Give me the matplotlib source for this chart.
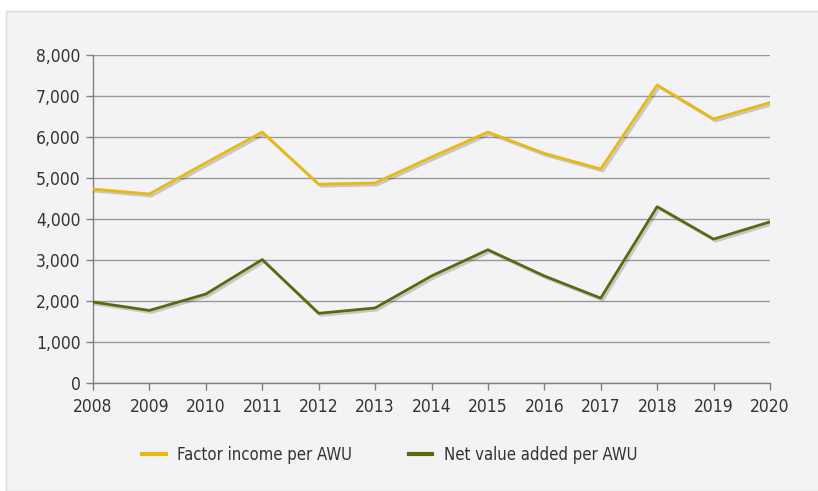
import matplotlib.pyplot as plt
import matplotlib.patheffects as pe
from matplotlib.patches import Rectangle
from matplotlib.lines import Line2D
from matplotlib.ticker import FuncFormatter

years = [2008, 2009, 2010, 2011, 2012, 2013, 2014, 2015, 2016, 2017, 2018, 2019, 2020]
factor_income = [4730, 4610, 5370, 6120, 4850, 4880, 5510, 6120, 5600, 5220, 7270, 6440, 6840]
net_value_added = [1975, 1770, 2170, 3010, 1700, 1830, 2610, 3250, 2610, 2070, 4300, 3510, 3930]
yticks = [0, 1000, 2000, 3000, 4000, 5000, 6000, 7000, 8000]

bg = '#f3f3f5'
text_col = '#333333'
yellow = '#e8b90f'
green = '#566b0e'
plt.rcParams['font.family'] = ['DejaVu Sans']
plt.rcParams['font.stretch'] = 'condensed'

fig = plt.figure(figsize=(8.18, 4.91), dpi=100)
fig.patch.set_facecolor('white')
# grey panel behind the chart
fig.patches.append(Rectangle((6 / 818, 0), 1, 1 - 11 / 491, transform=fig.transFigure,
                             facecolor=bg, edgecolor='#dddddd', linewidth=1, zorder=-1))

ax = fig.add_axes([93 / 818, 1 - 383 / 491, (770 - 93) / 818, (383 - 55) / 491])
ax.set_zorder(1)
ax.patch.set_alpha(0)

shadow = [pe.SimpleLineShadow(offset=(1.5, -1.5), alpha=0.18, shadow_color='black'), pe.Normal()]
ax.plot(years, factor_income, color=yellow, lw=2, path_effects=shadow, zorder=3)
ax.plot(years, net_value_added, color=green, lw=2, path_effects=shadow, zorder=3)

ax.set_xlim(2008, 2020)
ax.set_ylim(0, 8000)
ax.set_xticks(years)
ax.set_yticks(yticks)
ax.yaxis.set_major_formatter(FuncFormatter(lambda v, p: f'{int(v):,}'))
ax.grid(axis='y', color='#9a9a9a', lw=1)
ax.set_axisbelow(True)
for s in ['top', 'right']:
    ax.spines[s].set_visible(False)
for s in ['left', 'bottom']:
    ax.spines[s].set_color('#808080')
    ax.spines[s].set_linewidth(1)
ax.tick_params(axis='both', colors='#808080', labelcolor=text_col, labelsize=12.5, length=5, width=1)
ax.tick_params(axis='x', pad=6)
ax.tick_params(axis='y', pad=4)

handles = [Line2D([], [], color=yellow, lw=3), Line2D([], [], color=green, lw=3)]
labels = ['Factor income per AWU', 'Net value added per AWU']
fig.legend(handles, labels, loc='center', bbox_to_anchor=(390 / 818, 1 - 455 / 491), ncol=2,
           frameon=False, fontsize=12, handlelength=1.4, handletextpad=0.7,
           columnspacing=3.4, labelcolor=text_col)

fig.savefig('out.png', dpi=100, facecolor=fig.get_facecolor())
